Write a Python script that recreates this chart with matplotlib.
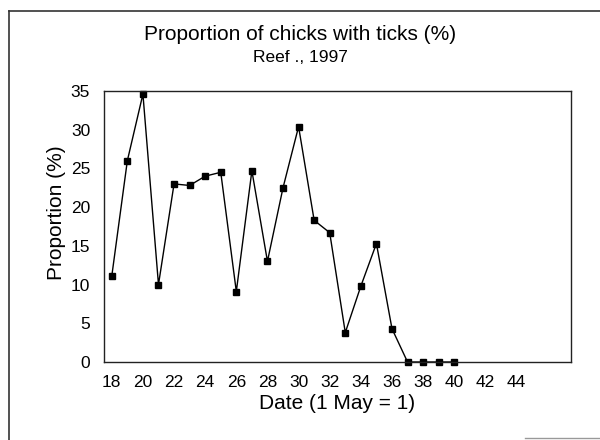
import matplotlib
matplotlib.use("Agg")
import matplotlib.pyplot as plt
from matplotlib.lines import Line2D

days = [18, 19, 20, 21, 22, 23, 24, 25, 26, 27, 28, 29, 30, 31, 32, 33, 34, 35, 36, 37, 38, 39, 40]
proportion = [11.1, 26.0, 34.6, 10.0, 23.0, 22.8, 24.0, 24.5, 9.1, 24.7, 13.0, 22.5, 30.4,
              18.3, 16.7, 3.8, 9.8, 15.3, 4.3, 0, 0, 0, 0]
xticks = list(range(18, 45, 2))
yticks = list(range(0, 36, 5))

plt.rcParams['font.family'] = ['Liberation Sans', 'DejaVu Sans']

fig = plt.figure(figsize=(6, 4.4), dpi=100)
ax = fig.add_axes([104/600, 1 - 362/440, (571 - 104)/600, (362 - 91)/440])

ax.plot(days, proportion, color='black', lw=1.0, marker='s', markersize=4,
        markerfacecolor='black', markeredgecolor='black', clip_on=False)

ax.set_xlim(17.5, 47.5)
ax.set_ylim(0, 35)
ax.set_xticks(xticks)
ax.set_yticks(yticks)
ax.tick_params(axis='both', length=0, labelsize=12.5, colors='black')
ax.tick_params(axis='x', pad=9)
ax.tick_params(axis='y', pad=10)
for s in ax.spines.values():
    s.set_color('#222222')
    s.set_linewidth(1.0)

ax.set_xlabel('Date (1 May = 1)', fontsize=15, labelpad=3)
ax.set_ylabel('Proportion (%)', fontsize=15)
ax.yaxis.set_label_coords(-0.082, 0.55)

fig.text(0.5, 1 - 35/440, 'Proportion of chicks with ticks (%)', ha='center', va='center', fontsize=15)
fig.text(0.5, 1 - 58/440, 'Reef ., 1997', ha='center', va='center', fontsize=12.5)

# outer frame (left and top edges, faint bottom-right piece)
fig.add_artist(Line2D([9/600, 9/600], [0, 1 - 11/440], transform=fig.transFigure, color='#333333', lw=1.2))
fig.add_artist(Line2D([9/600, 1], [1 - 11/440, 1 - 11/440], transform=fig.transFigure, color='#333333', lw=1.2))
fig.add_artist(Line2D([525/600, 1], [1 - 438/440, 1 - 438/440], transform=fig.transFigure, color='#999999', lw=1.0))

fig.savefig('out.png', dpi=100)
